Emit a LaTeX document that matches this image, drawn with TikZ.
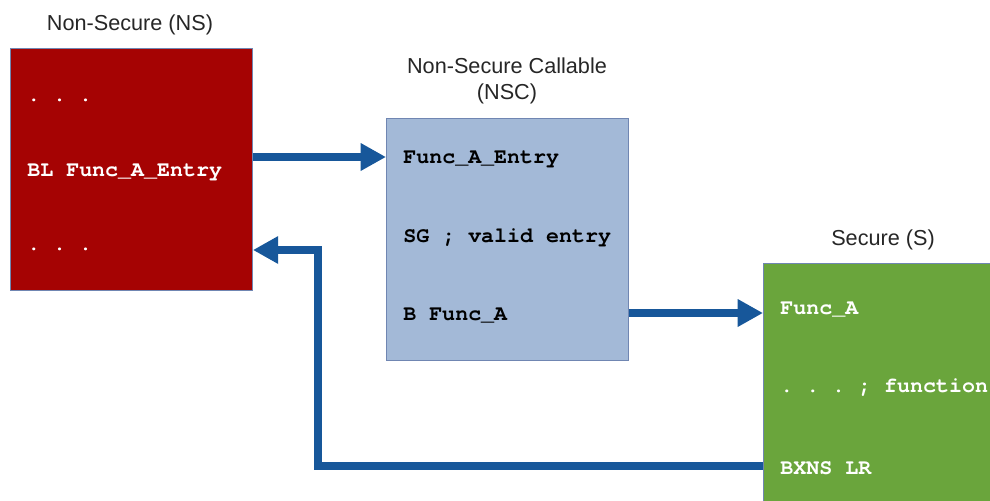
\documentclass[tikz,border=0pt]{standalone}
\usepackage{fontspec}
\setmainfont{Liberation Sans}
\setmonofont{TeX Gyre Cursor}
\usepackage{tikz}
\usetikzlibrary{arrows.meta,positioning}
\definecolor{nsred}{HTML}{A50303}
\definecolor{nscblue}{HTML}{A3B9D7}
\definecolor{sgreen}{HTML}{6AA53C}
\definecolor{arrblue}{HTML}{17579A}
\definecolor{edgeblue}{HTML}{7086B2}
\begin{document}
\begin{tikzpicture}[x=0.025cm, y=-0.025cm,
  region/.style={draw=edgeblue, line width=0.6pt, anchor=north west, minimum width=6.05cm, minimum height=6.05cm, inner sep=0pt},
  code/.style={font=\ttfamily\bfseries\fontsize{15.4}{18}\selectfont, anchor=west, inner sep=0pt},
  head/.style={font=\fontsize{15.4}{19}\selectfont, text=black!85, align=center, inner sep=1pt},
  arr/.style={draw=arrblue, line width=5.5pt, -{Triangle[length=18pt, width=18.5pt]}}]
  \useasboundingbox (0,0) rectangle (990,500);
  \clip (0,0) rectangle (990,500);
  % regions
  \node[region, fill=nsred]   (ns)  at (10,48)   {};
  \node[region, fill=nscblue] (nsc) at (386,118) {};
  \node[region, fill=sgreen]  (s)   at (763,263) {};
  \node[head] (nsT)  at (130,25)  {Non-Secure (NS)};
  \node[head] (nscT) at (507,81)  {Non-Secure Callable\\(NSC)};
  \node[head] (sT)   at (883,240) {Secure (S)};
  % code lines
  \node[code, text=white] (nsA) at (27,100)  {. . .};
  \node[code, text=white] (nsB) at (27,172) {BL Func\_A\_Entry};
  \node[code, text=white] (nsC) at (27,249) {. . .};
  \node[code] (nscA) at (403,159) {Func\_A\_Entry};
  \node[code] (nscB) at (403,238) {SG ; valid entry};
  \node[code] (nscC) at (403,316) {B Func\_A};
  \node[code, text=white] (sA) at (780,310) {Func\_A};
  \node[code, text=white] (sB) at (780,388) {. . . ; function};
  \node[code, text=white] (sC) at (780,468) {BXNS LR};
  \coordinate (turn) at (318,250);
  % calls
  \draw[arr] (ns.east |- 0,157) -- (nsc.west |- 0,157);
  \draw[arr] (nsc.east |- 0,313) -- (s.west |- 0,313);
  \draw[arr] (s.west |- 0,466) -| (turn) -- (turn -| ns.east);
\end{tikzpicture}
\end{document}
